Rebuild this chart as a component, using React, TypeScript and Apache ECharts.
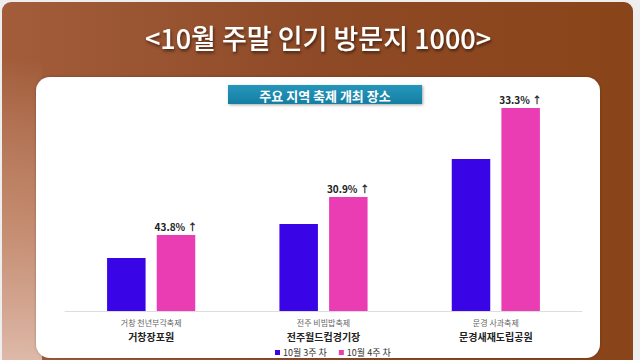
import React, { useEffect, useRef } from "react";
import * as echarts from "echarts";

const festivals = ["거창 천년부각축제", "전주 비빔밥축제", "문경 사과축제"];
const places = ["거창장포원", "전주월드컵경기장", "문경새재도립공원"];
const week3 = [53, 87, 152];
const week4 = [76, 114, 203];
const growth = ["43.8%", "30.9%", "33.3%"];
const seriesNames = ["10월 3주 차", "10월 4주 차"];
const titleText = "<10월 주말 인기 방문지 1000>";
const subtitleText = "주요 지역 축제 개최 장소";

const FONT = '"Noto Sans CJK KR", "Noto Sans", sans-serif';

export default function App() {
  const ref = useRef<HTMLDivElement>(null);
  useEffect(() => {
    if (!ref.current) return;
    const chart = echarts.init(ref.current, null, { renderer: "svg" });
    chart.setOption({
      animation: false,
      backgroundColor: "#eeeeee",
      textStyle: { fontFamily: FONT },
      graphic: [
        {
          type: "rect",
          z: -10,
          shape: { x: 2, y: 2, width: 631, height: 380, r: 9 },
          style: {
            fill: new echarts.graphic.LinearGradient(0, 0, 1, 0, [
              { offset: 0, color: "#a35d3b" },
              { offset: 0.5, color: "#8e4a26" },
              { offset: 1, color: "#8a4419" },
            ]),
          },
        },
        {
          type: "rect",
          z: -9,
          shape: { x: 2, y: 60, width: 40, height: 300 },
          style: {
            fill: new echarts.graphic.LinearGradient(0, 0, 0, 1, [
              { offset: 0, color: "rgba(225,180,160,0)" },
              { offset: 0.5, color: "rgba(215,165,140,0.6)" },
              { offset: 1, color: "rgba(225,190,175,0.95)" },
            ]),
          },
        },
        {
          type: "rect",
          z: -8,
          shape: { x: 36, y: 77, width: 564, height: 281, r: 14 },
          style: { fill: "#ffffff", shadowBlur: 3, shadowColor: "rgba(0,0,0,0.25)" },
        },
        {
          type: "text",
          z: -7,
          x: 318,
          y: 37,
          style: {
            text: titleText,
            fill: "#ffffff",
            font: `500 27px ${FONT}`,
            align: "center",
            verticalAlign: "middle",
            textShadowColor: "rgba(0,0,0,0.55)",
            textShadowBlur: 3,
            textShadowOffsetX: 1,
            textShadowOffsetY: 2,
          },
        },
        {
          type: "rect",
          z: -7,
          shape: { x: 228, y: 85, width: 194, height: 19 },
          style: {
            fill: new echarts.graphic.LinearGradient(0, 0, 0, 1, [
              { offset: 0, color: "#2597bb" },
              { offset: 1, color: "#167ea3" },
            ]),
            shadowBlur: 3,
            shadowOffsetX: 1,
            shadowOffsetY: 1,
            shadowColor: "rgba(0,0,0,0.35)",
          },
        },
        {
          type: "text",
          z: -6,
          x: 325,
          y: 95,
          style: {
            text: subtitleText,
            fill: "#ffffff",
            font: `bold 13px ${FONT}`,
            align: "center",
            verticalAlign: "middle",
          },
        },
      ],
      grid: { left: 65, right: 58, top: 91, bottom: 49, containLabel: false },
      legend: {
        data: seriesNames,
        left: 275,
        top: 348,
        padding: 0,
        icon: "rect",
        itemWidth: 5,
        itemHeight: 5,
        itemGap: 12,
        textStyle: { fontSize: 9, color: "#333", fontFamily: FONT, padding: [0, 0, 0, -2] },
      },
      xAxis: {
        type: "category",
        data: festivals,
        axisLine: { lineStyle: { color: "#dddddd", width: 1 } },
        axisTick: { show: false },
        axisLabel: {
          margin: 5,
          formatter: (v: string, i: number) => `{a|${v}}\n{b|${places[i]}}`,
          rich: {
            a: { fontSize: 8, color: "#666", fontFamily: FONT, lineHeight: 13 },
            b: { fontSize: 10, fontWeight: "bold", color: "#222", fontFamily: FONT, lineHeight: 14 },
          },
        },
      },
      yAxis: {
        type: "value",
        min: 0,
        max: 220,
        show: false,
        splitLine: { show: false },
      },
      series: [
        {
          name: seriesNames[0],
          type: "bar",
          data: week3,
          barWidth: 38.5,
          barGap: "29%",
          itemStyle: { color: "#3a05e6" },
        },
        {
          name: seriesNames[1],
          type: "bar",
          data: week4,
          barWidth: 38.5,
          itemStyle: { color: "#ea3db3" },
          label: {
            show: true,
            position: "top",
            distance: 4,
            formatter: (p: any) => `${growth[p.dataIndex]} ↑`,
            fontSize: 10,
            fontWeight: "bold",
            color: "#222",
            fontFamily: FONT,
          },
        },
      ],
    });
    return () => chart.dispose();
  }, []);
  return <div ref={ref} style={{ width: 640, height: 360, position: "fixed", left: 0, top: 0 }} />;
}
